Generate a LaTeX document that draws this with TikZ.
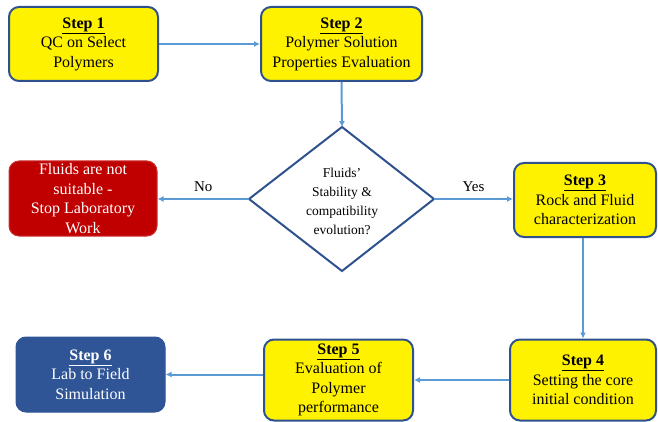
\documentclass[tikz,border=0pt]{standalone}
\usepackage{fontspec}
\setmainfont{Liberation Serif}
\usetikzlibrary{shapes.geometric,arrows.meta}
\definecolor{boxblue}{HTML}{2F528F}
\definecolor{arrowblue}{HTML}{5B9BD5}
\definecolor{stopred}{HTML}{C00000}
\definecolor{simblue}{HTML}{2F5597}
\tikzset{
  stepbox/.style={draw=boxblue, line width=2pt, fill=yellow, rounded corners=10pt,
    align=center, font=\fontsize{16}{19.5}\selectfont, inner sep=0pt},
  redbox/.style={draw=stopred!80!white, line width=1pt, fill=stopred, rounded corners=10pt,
    align=center, text=white, font=\fontsize{16}{19.5}\selectfont, inner sep=0pt},
  bluebox/.style={draw=simblue, line width=1pt, fill=simblue, rounded corners=10pt,
    align=center, text=white, font=\fontsize{16}{19.5}\selectfont, inner sep=0pt},
  decision/.style={draw=boxblue, line width=2pt, fill=white},
  conn/.style={draw=arrowblue, line width=2pt, -{Latex[length=6pt,width=6pt]}},
  lbl/.style={font=\fontsize{15}{17}\selectfont}
}
\begin{document}
\begin{tikzpicture}[x=1pt,y=-1pt]
\useasboundingbox (0,0) rectangle (658,422);
\node[stepbox, minimum width=149pt, minimum height=74pt] (s1) at (83.5,44)
  {\underline{\textbf{Step 1}}\\QC on Select\\Polymers};
\node[stepbox, minimum width=161pt, minimum height=74pt] (s2) at (341.5,44)
  {\underline{\textbf{Step 2}}\\Polymer Solution\\Properties Evaluation};
\coordinate (dt) at (342,127);
\coordinate (dl) at (249,199);
\coordinate (dr) at (434,199);
\coordinate (db) at (342,271);
\draw[decision] (dt) -- (dr) -- (db) -- (dl) -- cycle;
\node[font=\fontsize{13.5}{19}\selectfont, align=center] (d) at (342,201)
  {Fluids'\\Stability \&\\compatibility\\evolution?};
\node[redbox, minimum width=148pt, minimum height=75pt] (r) at (83,198.5)
  {Fluids are not\\suitable -\\Stop Laboratory\\Work};
\node[stepbox, minimum width=142pt, minimum height=74pt] (s3) at (585,200)
  {\underline{\textbf{Step 3}}\\Rock and Fluid\\characterization};
\node[stepbox, minimum width=146pt, minimum height=81pt] (s4) at (583,380)
  {\underline{\textbf{Step 4}}\\Setting the core\\initial condition};
\node[stepbox, minimum width=149pt, minimum height=81pt] (s5) at (338.5,380)
  {\underline{\textbf{Step 5}}\\Evaluation of\\Polymer\\performance};
\node[bluebox, minimum width=149pt, minimum height=75pt] (s6) at (90.5,374.5)
  {\underline{\textbf{Step 6}}\\Lab to Field\\Simulation};
\draw[conn] (s1.east) -- (s2.west);
\draw[conn] (s2.south) -- (dt);
\draw[conn] (dl) -- node[lbl, above=3pt] {No} (r.east |- dl);
\draw[conn] (dr) -- node[lbl, above=3pt] {Yes} (s3.west |- dr);
\draw[conn] (s3.south -| s4.north) -- (s4.north);
\draw[conn] (s4.west) -- (s5.east);
\draw[conn] (s5.west |- s6.east) -- (s6.east);
\end{tikzpicture}
\end{document}
